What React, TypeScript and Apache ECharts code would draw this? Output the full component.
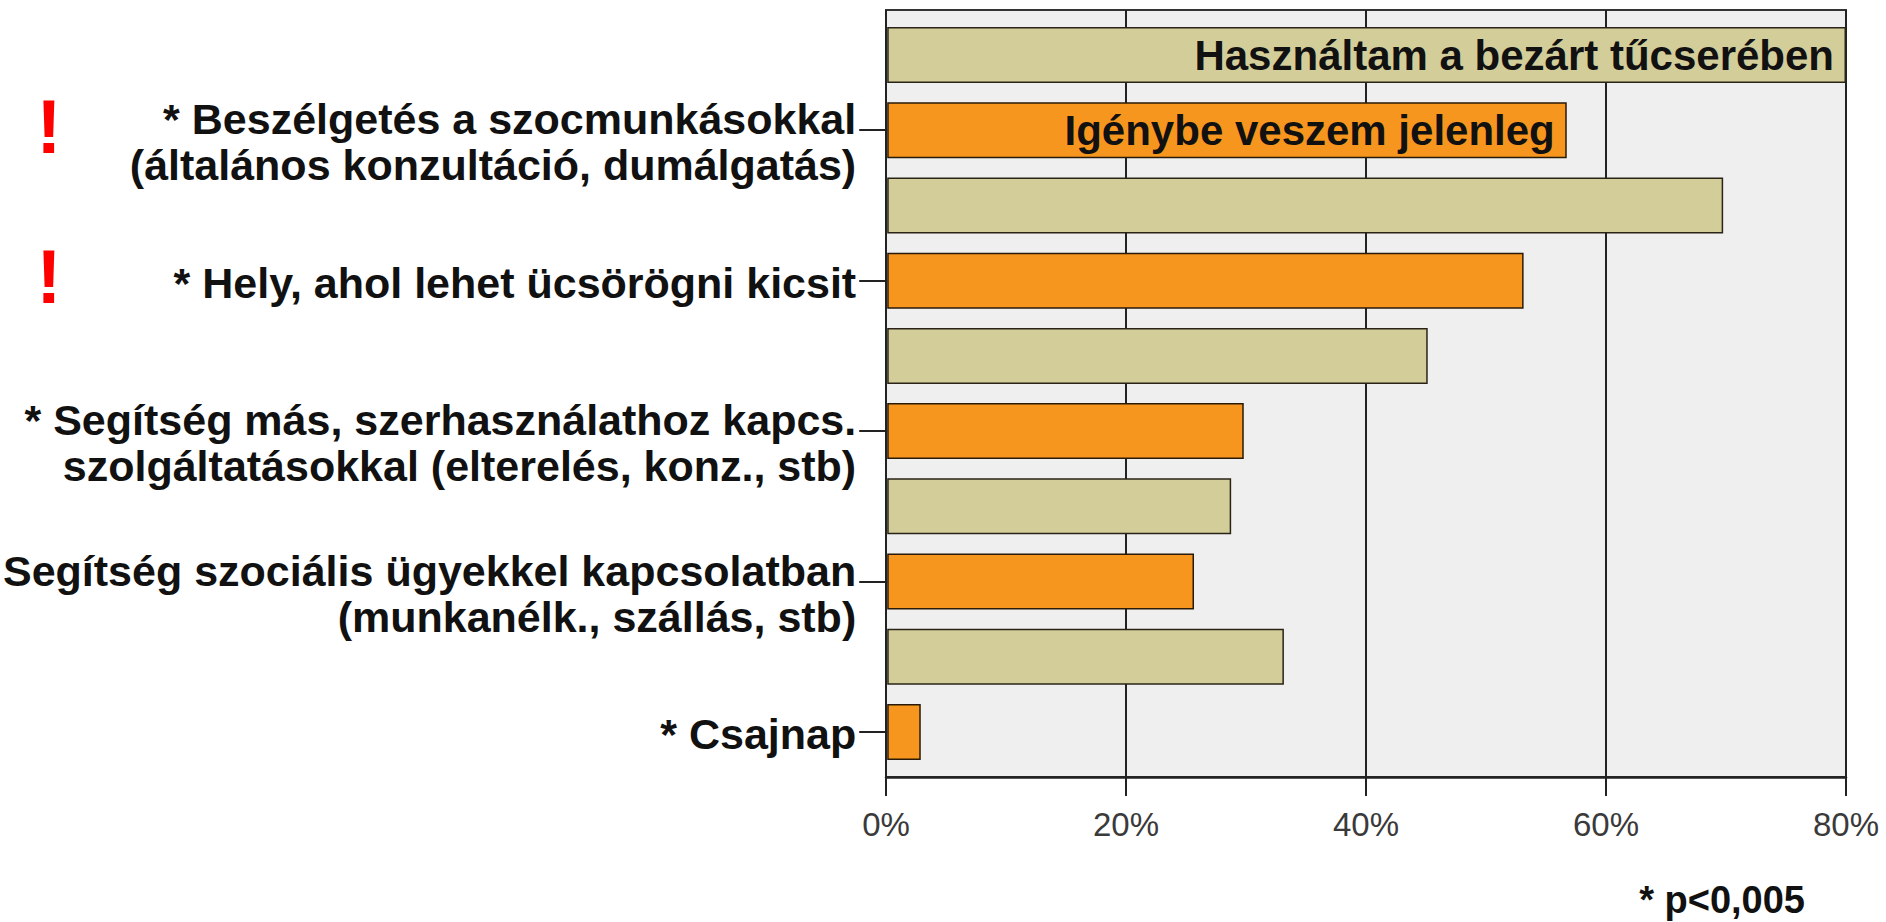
import React, { useEffect, useRef } from "react";
import * as echarts from "echarts";

const categories = [
  "* Beszélgetés a szocmunkásokkal\n(általános konzultáció, dumálgatás)",
  "* Hely, ahol lehet ücsörögni kicsit",
  "* Segítség más, szerhasználathoz kapcs.\nszolgáltatásokkal (elterelés, konz., stb)",
  "Segítség szociális ügyekkel kapcsolatban\n(munkanélk., szállás, stb)",
  "* Csajnap",
];
const usedInClosedExchange = [80, 69.75, 45.1, 28.7, 33.1];
const usingCurrently = [56.7, 53.1, 29.75, 25.6, 2.8];
const seriesNames = ["Használtam a bezárt tűcserében", "Igénybe veszem jelenleg"];
const flaggedCategories = [0, 1];
const xMin = 0;
const xMax = 80;
const xInterval = 20;
const footnote = "* p<0,005";

const FONT = "'Liberation Sans', Arial, sans-serif";

export default function App() {
  const ref = useRef<HTMLDivElement>(null);
  useEffect(() => {
    document.body.style.margin = "0";
    if (!ref.current) return;
    const chart = echarts.init(ref.current, null, { renderer: "svg" });

    const slotKeys: string[] = [];
    const usedSlots: any[] = [];
    const currentSlots: any[] = [];
    categories.forEach((c, i) => {
      slotKeys.push("t" + i);
      usedSlots.push(
        i === 0
          ? { value: usedInClosedExchange[i], label: { show: true } }
          : usedInClosedExchange[i]
      );
      currentSlots.push(null);
      slotKeys.push("c" + i);
      usedSlots.push(null);
      currentSlots.push(
        i === 0 ? { value: usingCurrently[i], label: { show: true } } : usingCurrently[i]
      );
    });

    const labelFmt = (key: string) => {
      if (key[0] !== "c") return "";
      const txt = categories[Number(key.slice(1))];
      const lines = txt.split("\n");
      if (lines.length === 1) return `{p| }\n{a|${lines[0]}}`;
      return "{s| }\n" + lines.map((l) => `{a|${l}}`).join("\n");
    };

    const barLabel = {
      show: false,
      position: "insideRight",
      distance: 12,
      formatter: "{a}",
      fontSize: 42,
      fontWeight: "bold",
      fontFamily: FONT,
      color: "#111",
    };

    chart.setOption({
      animation: false,
      backgroundColor: "#ffffff",
      grid: [
        {
          left: 886,
          top: 10,
          width: 960,
          height: 767,
          show: true,
          backgroundColor: "#EFEFEF",
          borderColor: "#333",
          borderWidth: 2,
          z: 0,
        },
        { left: 886, top: 17.4, width: 960, height: 752.2, z: 2 },
      ],
      xAxis: [
        {
          gridIndex: 0,
          type: "value",
          min: xMin,
          max: xMax,
          interval: xInterval,
          axisLine: { show: true, lineStyle: { color: "#222", width: 2.5 } },
          axisTick: { show: true, length: 19, lineStyle: { color: "#222", width: 2 } },
          splitLine: { show: true, lineStyle: { color: "#222", width: 2 } },
          axisLabel: {
            formatter: "{value}%",
            fontSize: 33,
            color: "#3a3a3a",
            fontFamily: FONT,
            margin: 31,
          },
        },
        {
          gridIndex: 1,
          type: "value",
          min: xMin,
          max: xMax,
          show: false,
        },
      ],
      yAxis: [
        { gridIndex: 0, type: "value", min: 0, max: 1, show: false },
        {
          gridIndex: 1,
          type: "category",
          inverse: true,
          data: slotKeys,
          axisLine: { show: false },
          axisTick: {
            show: true,
            alignWithLabel: true,
            interval: (i: number) => i % 2 === 1,
            length: 28,
            lineStyle: { color: "#222", width: 2 },
          },
          axisLabel: {
            interval: 0,
            margin: 31,
            formatter: labelFmt,
            rich: {
              a: {
                fontSize: 43,
                fontWeight: "bold",
                fontFamily: FONT,
                color: "#111",
                lineHeight: 46,
                align: "right",
              },
              s: { fontSize: 10, lineHeight: 24 },
              p: { fontSize: 4, lineHeight: 5 },
            },
          },
        },
      ],
      series: [
        {
          name: seriesNames[0],
          type: "bar",
          xAxisIndex: 1,
          yAxisIndex: 1,
          barWidth: 56,
          barGap: "-100%",
          data: usedSlots,
          itemStyle: { color: "#D3CD9A", borderColor: "#2a2418", borderWidth: 1.5 },
          label: barLabel,
          z: 3,
        },
        {
          name: seriesNames[1],
          type: "bar",
          xAxisIndex: 1,
          yAxisIndex: 1,
          barWidth: 56,
          barGap: "-100%",
          data: currentSlots,
          itemStyle: { color: "#F7961F", borderColor: "#2a1a08", borderWidth: 1.5 },
          label: barLabel,
          z: 3,
        },
      ],
    });

    const marks = flaggedCategories.map((ci) => {
      const y = chart.convertToPixel({ yAxisIndex: 1 }, "c" + ci) as number;
      return {
        type: "text",
        x: 49,
        y: y - 4,
        style: {
          text: "!",
          fontSize: 76,
          fontWeight: "bold",
          fontFamily: FONT,
          fill: "#FF0000",
          align: "center",
          verticalAlign: "middle",
        },
      };
    });

    chart.setOption({
      graphic: [
        ...marks,
        {
          type: "text",
          x: 1805,
          y: 900,
          style: {
            text: footnote,
            fontSize: 38,
            fontWeight: "bold",
            fontFamily: FONT,
            fill: "#111",
            align: "right",
            verticalAlign: "middle",
          },
        },
      ],
    });

    return () => chart.dispose();
  }, []);
  return (
    <div
      ref={ref}
      style={{ position: "absolute", left: 0, top: 0, width: 1886, height: 922 }}
    />
  );
}
